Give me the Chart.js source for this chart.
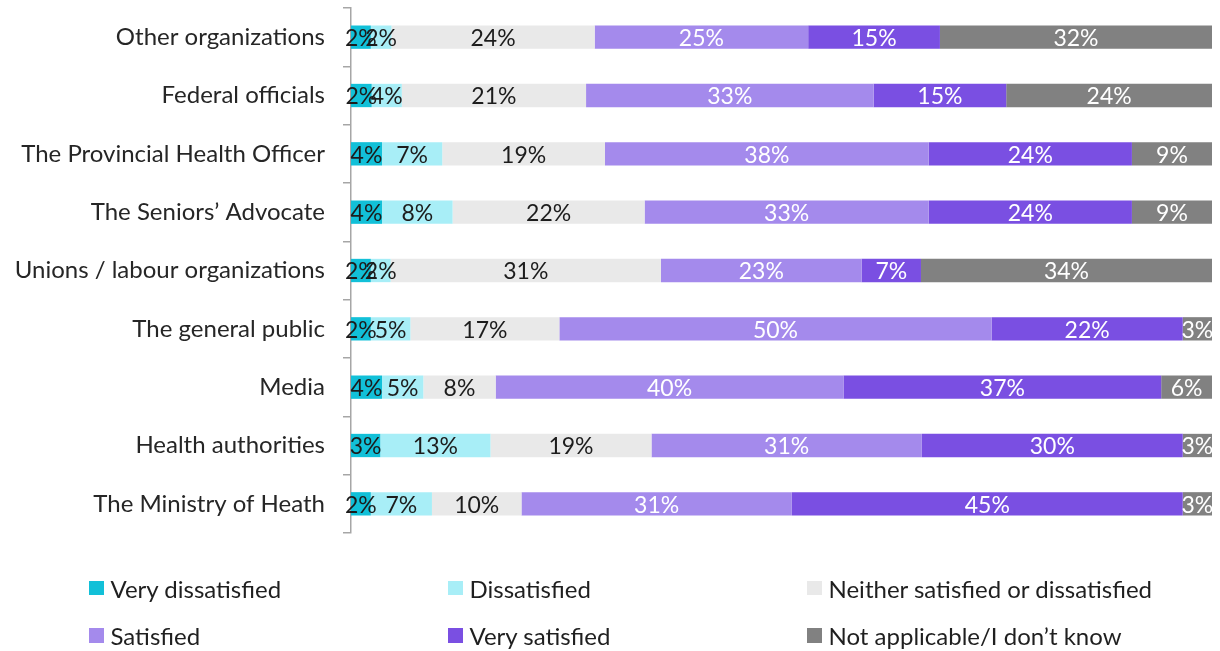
<!DOCTYPE html>
<html>
<head>
<meta charset="utf-8">
<script src="https://cdn.jsdelivr.net/npm/chart.js@4/dist/chart.umd.min.js"></script>
<style>
  html, body { margin: 0; padding: 0; background: #ffffff; }
  #wrap { position: relative; width: 1220px; height: 651px; overflow: hidden; }
  #c { position: absolute; left: 0; top: 0; }
  .lg { position: absolute; height: 28px; display: flex; align-items: center;
        font-family: Lato, "Open Sans", sans-serif; font-size: 24px; color: #1f1f1f; white-space: nowrap; }
  .lg i { display: inline-block; width: 14.5px; height: 14.5px; margin-right: 7px; }
</style>
</head>
<body>
<div id="wrap">
  <canvas id="c" width="1220" height="651"></canvas>
</div>
<script>
// Respondent groups, top to bottom
const categories = [
  'Other organizations',
  'Federal officials',
  'The Provincial Health Officer',
  'The Seniors\u2019 Advocate',
  'Unions / labour organizations',
  'The general public',
  'Media',
  'Health authorities',
  'The Ministry of Heath'
];

// Share of responses (%) per satisfaction level
const veryDissatisfied = [2.3, 2.4, 3.6, 3.6, 2.3, 2.3, 3.6, 3.4, 2.3];
const dissatisfied     = [2.4, 3.5, 7.0, 8.2, 2.3, 4.6, 4.8, 12.8, 7.1];
const neither          = [23.6, 21.4, 18.9, 22.3, 31.4, 17.3, 8.4, 18.7, 10.4];
const satisfied        = [24.8, 33.4, 37.6, 33.0, 23.3, 50.2, 40.4, 31.4, 31.4];
const verySatisfied    = [15.3, 15.4, 23.6, 23.6, 6.9, 22.2, 36.9, 30.3, 45.4];
const notApplicable    = [31.6, 23.9, 9.3, 9.3, 33.8, 3.4, 5.9, 3.4, 3.4];

const seriesNames = [
  'Very dissatisfied',
  'Dissatisfied',
  'Neither satisfied or dissatisfied',
  'Satisfied',
  'Very satisfied',
  'Not applicable/I don\u2019t know'
];
const seriesData = [veryDissatisfied, dissatisfied, neither, satisfied, verySatisfied, notApplicable];
const seriesColors = ['#12C0D8', '#A8EEF7', '#E9E9E9', '#A48AEC', '#7A4FE2', '#818181'];
const labelColors  = ['#1c1c1c', '#1c1c1c', '#1c1c1c', '#ffffff', '#ffffff', '#ffffff'];

const FONT = 'Lato, "Open Sans", sans-serif';

// Percentage labels centred on each segment
const segmentLabels = {
  id: 'segmentLabels',
  afterDatasetsDraw(chart) {
    const ctx = chart.ctx;
    ctx.save();
    ctx.font = '23px ' + FONT;
    ctx.textAlign = 'center';
    ctx.textBaseline = 'middle';
    chart.data.datasets.forEach((ds, i) => {
      const meta = chart.getDatasetMeta(i);
      if (meta.hidden) return;
      ctx.fillStyle = labelColors[i];
      meta.data.forEach((bar, j) => {
        const p = bar.getProps(['x', 'y', 'base'], true);
        const v = ds.data[j];
        ctx.fillText(Math.round(v) + '%', (p.x + p.base) / 2, p.y + 1.5);
      });
    });
    ctx.restore();
  }
};

const chart = new Chart(document.getElementById('c'), {
  type: 'bar',
  data: {
    labels: categories,
    datasets: seriesData.map((d, i) => ({
      label: seriesNames[i],
      data: d,
      backgroundColor: seriesColors[i],
      borderWidth: 0,
      categoryPercentage: 1,
      barPercentage: 0.4
    }))
  },
  options: {
    indexAxis: 'y',
    responsive: false,
    animation: false,
    layout: { padding: { top: 8, right: 8, bottom: 118, left: 0 } },
    plugins: {
      legend: { display: false },
      tooltip: { enabled: false }
    },
    scales: {
      x: {
        stacked: true,
        min: 0,
        max: 100,
        display: false
      },
      y: {
        stacked: true,
        afterFit(scale) {
          scale.width = 351;
          scale.paddingTop = 0;
          scale.paddingBottom = 0;
        },
        border: { display: true, color: '#a6a6a6', width: 1.5 },
        grid: {
          offset: true,
          drawOnChartArea: false,
          drawTicks: true,
          tickLength: 8,
          color: '#a6a6a6',
          lineWidth: 1.5
        },
        ticks: {
          padding: 18,
          color: '#262626',
          font: { family: FONT, size: 24 }
        }
      }
    }
  },
  plugins: [segmentLabels]
});

// Legend laid out in a 3-column grid below the plot
const wrap = document.getElementById('wrap');
const colLeft = [89, 448, 807];
const rowCenter = [588, 635.5];
seriesNames.forEach((name, i) => {
  const el = document.createElement('div');
  el.className = 'lg';
  el.style.left = colLeft[i % 3] + 'px';
  el.style.top = (rowCenter[Math.floor(i / 3)] - 14) + 'px';
  const sw = document.createElement('i');
  sw.style.background = seriesColors[i];
  el.appendChild(sw);
  el.appendChild(document.createTextNode(name));
  wrap.appendChild(el);
});
</script>
</body>
</html>
